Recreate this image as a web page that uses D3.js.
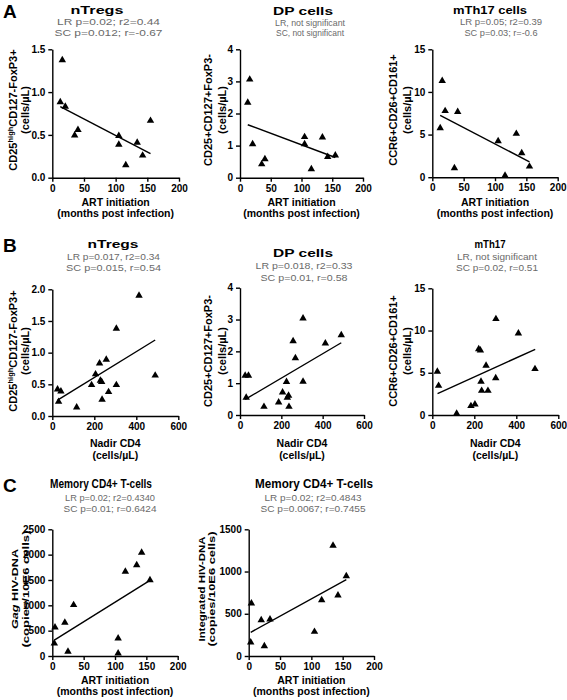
<!DOCTYPE html>
<html><head><meta charset="utf-8">
<script src="https://cdn.jsdelivr.net/npm/d3@7"></script>
<style>
body{margin:0;background:#fff}
svg text{font-family:"Liberation Sans",Arial,Helvetica,sans-serif}
</style>
</head><body>
<svg id="chart" width="567" height="700"></svg>
<script>
// ---------- DATA ----------
// Row A: ART initiation (months post infection)
const artA = [12.6, 15.8, 20.5, 35.3, 40.5, 105, 105, 116, 134, 142.6, 155];
const nTregsA = [0.884, 1.375, 0.83, 0.495, 0.56, 0.49, 0.386, 0.148, 0.41, 0.26, 0.666];
const dpA = [2.34, 3.06, 1.05, 0.42, 0.58, 1.27, 1.05, 0.27, 1.26, 0.65, 0.7];
const artA3 = [12.6, 15.8, 20.5, 35.3, 40.5, 105, 116, 134, 142.6, 155];
const mth17A = [5.77, 11.3, 7.77, 1.06, 7.66, 4.24, 0.2, 5.1, 2.83, 1.26];
// Row B: Nadir CD4 (cells/µL)
const nadirB = [25, 30, 41, 116, 187, 206, 225, 229, 235, 237, 257, 268, 305, 305, 413, 490];
const nTregsB = [0.42, 0.226, 0.39, 0.137, 0.49, 0.66, 0.83, 0.56, 0.54, 0.26, 0.89, 0.38, 1.38, 0.49, 1.9, 0.64];
const dpB = [1.24, 0.55, 1.24, 0.26, 0.4, 0.71, 1.04, 0.55, 0.61, 0.26, 2.32, 1.79, 1.05, 3.04, 2.25, 2.51];
const nadirB3 = [24, 30, 116, 184, 203, 221, 229, 232, 235, 256, 265, 302, 303, 410, 489];
const mth17B = [5.13, 3.47, 0.16, 1.07, 1.26, 7.8, 7.66, 3.95, 2.88, 5.84, 2.88, 4.38, 11.37, 9.67, 5.45];
// Row C: HIV-DNA in memory CD4+ T-cells
const artC1 = [3.2, 4.3, 20, 25, 34, 105, 105, 116.5, 134.6, 142.5, 155.8];
const gagC = [250, 566, 658, 86, 1007, 349, 53, 1664, 1796, 2039, 1500];
const artC2 = [3.2, 4.3, 20, 25, 34, 105, 116.5, 134.6, 142.5, 155.8];
const integratedC = [162, 624, 426, 118, 434, 288, 663, 1307, 718, 947];
// Regression lines (x0, y0, x1, y1)
const fitA1 = [12.6, 0.83, 155, 0.28];
const fitA2 = [12.6, 1.65, 155, 0.63];
const fitA3 = [12.6, 7.26, 155, 1.8];
const fitB1 = [25, 0.25, 490, 1.2];
const fitB2 = [25, 0.49, 490, 2.27];
const fitB3 = [25, 2.53, 490, 7.78];
const fitC1 = [3.2, 315, 155.8, 1493];
const fitC2 = [3.2, 281, 155.8, 903];
// Tick values
const ticksArt = [0, 50, 100, 150, 200];
const ticksNadir = [0, 200, 400, 600];
const ticksNTregsA = [0, 0.5, 1.0, 1.5];
const ticksNTregsB = [0, 0.5, 1.0, 1.5, 2.0];
const ticksDP = [0, 1, 2, 3, 4];
const ticksMTh17 = [0, 5, 10, 15];
const ticksGag = [0, 500, 1000, 1500, 2000, 2500];
const ticksIntegrated = [0, 500, 1000, 1500];
// Texts
const panelLetters = ["A", "B", "C"];
const titles = ["nTregs", "DP cells", "mTh17 cells", "nTregs", "DP cells", "mTh17", "Memory CD4+ T-cells", "Memory CD4+ T-cells"];
const lrTexts = ["LR p=0.02; r2=0.44", "LR, not significant", "LR p=0.05; r2=0.39",
  "LR p=0.017, r2=0.34", "LR p=0.018, r2=0.33", "LR, not significant",
  "LR p=0.02; r2=0.4340", "LR p=0.02; r2=0.4843"];
const scTexts = ["SC p=0.012; r=-0.67", "SC, not significant", "SC p=0.03; r=-0.6",
  "SC p=0.015, r=0.54", "SC p=0.01, r=0.58", "SC p=0.02, r=0.51",
  "SC p=0.01; r=0.6424", "SC p=0.0067; r=0.7455"];
const yLabNTregs = [[{t:"CD25"},{t:"high",sup:true},{t:"CD127-FoxP3+"}],[{t:"(cells/µL)"}]];
const yLabDP = [[{t:"CD25+CD127+FoxP3-"}],[{t:"(cells/µL)"}]];
const yLabMTh17 = [[{t:"CCR6+CD26+CD161+"}],[{t:"(cells/µL)"}]];
const yLabGag = [[{t:"Gag",it:true},{t:" HIV-DNA"}],[{t:"(copies/10E6 cells)"}]];
const yLabIntegrated = [[{t:"Integrated HIV-DNA"}],[{t:"(copies/10E6 cells)"}]];
const xLabArt = ["ART initiation", "(months post infection)"];
const xLabNadir = ["Nadir CD4", "(cells/µL)"];

// ---------- LAYOUT (pixel positions / text widths) ----------
const layout = [
  {x0:52.3,x1:179,yb:177.7,yt:49.3, tx:97,ty:14, sx:108.5,ly:25,sy:35.5, tw:[53,103,108], tf:11.5, y1x:13,y2x:25,ycy:110, xb1:206,xb2:216.5},
  {x0:240,x1:363,yb:177.7,yt:49.3, tx:303,ty:14.5, sx:310,ly:25.5,sy:36, tw:[60,70,68], tf:11.5, y1x:208,y2x:222,ycy:110, xb1:206,xb2:216.5},
  {x0:432.3,x1:557.7,yb:177.2,yt:49.3, tx:490,ty:14, sx:501,ly:25,sy:35.5, tw:[74,82,73], tf:11.5, y1x:393,y2x:407,ycy:110, xb1:206,xb2:216.5},
  {x0:52.3,x1:178.3,yb:416,yt:289.3, tx:113,ty:248, sx:113.5,ly:259.5,sy:271, tw:[51,93,95], tf:11.5, y1x:13,y2x:25,ycy:351, xb1:447,xb2:459},
  {x0:240,x1:364,yb:415,yt:287.7, tx:303,ty:257, sx:304,ly:269,sy:280.5, tw:[60,97,87], tf:11.5, y1x:208,y2x:222,ycy:351, xb1:447,xb2:459},
  {x0:432.3,x1:558.3,yb:415,yt:288.3, tx:490,ty:248, sx:497,ly:259.5,sy:271, tw:[31,80,82], tf:11, y1x:393,y2x:407,ycy:351, xb1:447,xb2:459},
  {x0:52.3,x1:177.7,yb:656,yt:529.3, tx:101,ty:488, sx:110,ly:500.5,sy:511.5, tw:[102,90,93], tf:13, y1x:15,y2x:25.5,ycy:589, yw:[80,117], xb1:684,xb2:694.5},
  {x0:248.7,x1:374,yb:656,yt:529.3, tx:314,ty:488, sx:313,ly:500.5,sy:511.5, tw:[118,97,105], tf:13, y1x:202,y2x:212,ycy:589, yw:[105,115], xb1:684,xb2:694.5}
];
const letterPos = [{x:3,y:17.5},{x:3,y:252},{x:3,y:492}];

const panels = [
  {x:artA, y:nTregsA, fit:fitA1, xt:ticksArt, yt:ticksNTregsA, yf:".1f", ylab:yLabNTregs, xlab:xLabArt},
  {x:artA, y:dpA, fit:fitA2, xt:ticksArt, yt:ticksDP, yf:"d", ylab:yLabDP, xlab:xLabArt},
  {x:artA3, y:mth17A, fit:fitA3, xt:ticksArt, yt:ticksMTh17, yf:"d", ylab:yLabMTh17, xlab:xLabArt},
  {x:nadirB, y:nTregsB, fit:fitB1, xt:ticksNadir, yt:ticksNTregsB, yf:".1f", ylab:yLabNTregs, xlab:xLabNadir},
  {x:nadirB, y:dpB, fit:fitB2, xt:ticksNadir, yt:ticksDP, yf:"d", ylab:yLabDP, xlab:xLabNadir},
  {x:nadirB3, y:mth17B, fit:fitB3, xt:ticksNadir, yt:ticksMTh17, yf:"d", ylab:yLabMTh17, xlab:xLabNadir},
  {x:artC1, y:gagC, fit:fitC1, xt:ticksArt, yt:ticksGag, yf:"d", ylab:yLabGag, xlab:xLabArt},
  {x:artC2, y:integratedC, fit:fitC2, xt:ticksArt, yt:ticksIntegrated, yf:"d", ylab:yLabIntegrated, xlab:xLabArt}
];

const svg = d3.select("#chart");
svg.append("rect").attr("width",567).attr("height",700).attr("fill","#fff");

panelLetters.forEach((l,i)=>{
  svg.append("text").attr("x",letterPos[i].x).attr("y",letterPos[i].y)
    .attr("font-size",19).attr("font-weight","bold").attr("fill","#000").text(l);
});

panels.forEach((p,i)=>{
  const L = layout[i];
  const g = svg.append("g");
  const xs = d3.scaleLinear().domain([p.xt[0], p.xt[p.xt.length-1]]).range([L.x0, L.x1]);
  const ys = d3.scaleLinear().domain([p.yt[0], p.yt[p.yt.length-1]]).range([L.yb, L.yt]);

  const xa = g.append("g").attr("transform",`translate(0,${L.yb})`)
    .call(d3.axisBottom(xs).tickValues(p.xt).tickSize(4).tickPadding(3).tickSizeOuter(0).tickFormat(d3.format("d")));
  const ya = g.append("g").attr("transform",`translate(${L.x0},0)`)
    .call(d3.axisLeft(ys).tickValues(p.yt).tickSize(4).tickPadding(3).tickSizeOuter(0).tickFormat(d3.format(p.yf)));
  [xa,ya].forEach(a=>{
    a.select(".domain").attr("stroke","#000").attr("stroke-width",1.4);
    a.selectAll(".tick line").attr("stroke","#000").attr("stroke-width",1.4);
    a.selectAll(".tick text").attr("font-size",10).attr("font-weight","bold").attr("fill","#000")
      .attr("font-family","'Liberation Sans',Arial,sans-serif");
  });

  // regression line
  g.append("line")
    .attr("x1",xs(p.fit[0])).attr("y1",ys(p.fit[1]))
    .attr("x2",xs(p.fit[2])).attr("y2",ys(p.fit[3]))
    .attr("stroke","#000").attr("stroke-width",1.4);

  // points
  const sym = d3.symbol().type(d3.symbolTriangle).size(24);
  g.selectAll("path.pt").data(p.x.map((d,j)=>[d,p.y[j]])).join("path")
    .attr("class","pt").attr("d",sym)
    .attr("transform",d=>`translate(${xs(d[0])},${ys(d[1])})`)
    .attr("fill","#000");

  // titles
  g.append("text").attr("x",L.tx).attr("y",L.ty).attr("text-anchor","middle")
    .attr("font-size",L.tf).attr("font-weight","bold").attr("fill","#000")
    .attr("textLength",L.tw[0]).attr("lengthAdjust","spacingAndGlyphs").text(titles[i]);
  g.append("text").attr("x",L.sx).attr("y",L.ly).attr("text-anchor","middle")
    .attr("font-size",9.8).attr("fill","#6a6a6a")
    .attr("textLength",L.tw[1]).attr("lengthAdjust","spacingAndGlyphs").text(lrTexts[i]);
  g.append("text").attr("x",L.sx).attr("y",L.sy).attr("text-anchor","middle")
    .attr("font-size",9.8).attr("fill","#6a6a6a")
    .attr("textLength",L.tw[2]).attr("lengthAdjust","spacingAndGlyphs").text(scTexts[i]);

  // x axis title
  const cx = (L.x0+L.x1)/2;
  g.append("text").attr("x",cx).attr("y",L.xb1).attr("text-anchor","middle")
    .attr("font-size",10.5).attr("font-weight","bold").attr("fill","#000").text(p.xlab[0]);
  g.append("text").attr("x",cx).attr("y",L.xb2).attr("text-anchor","middle")
    .attr("font-size",10.5).attr("font-weight","bold").attr("fill","#000").text(p.xlab[1]);

  // y axis title (rotated, two lines)
  [L.y1x, L.y2x].forEach((lx,k)=>{
    const t = g.append("text")
      .attr("transform",`translate(${lx},${L.ycy}) rotate(-90)`)
      .attr("text-anchor","middle").attr("dy","0.35em")
      .attr("font-size", L.yw ? 9.5 : 11).attr("font-weight","bold").attr("fill","#000");
    if (L.yw) t.attr("textLength",L.yw[k]).attr("lengthAdjust","spacingAndGlyphs");
    p.ylab[k].forEach(seg=>{
      const ts = t.append("tspan").text(seg.t);
      if(seg.sup) ts.attr("font-size",7.5).attr("baseline-shift","super");
      if(seg.it) ts.attr("font-style","italic");
    });
  });
});
</script>
</body></html>
